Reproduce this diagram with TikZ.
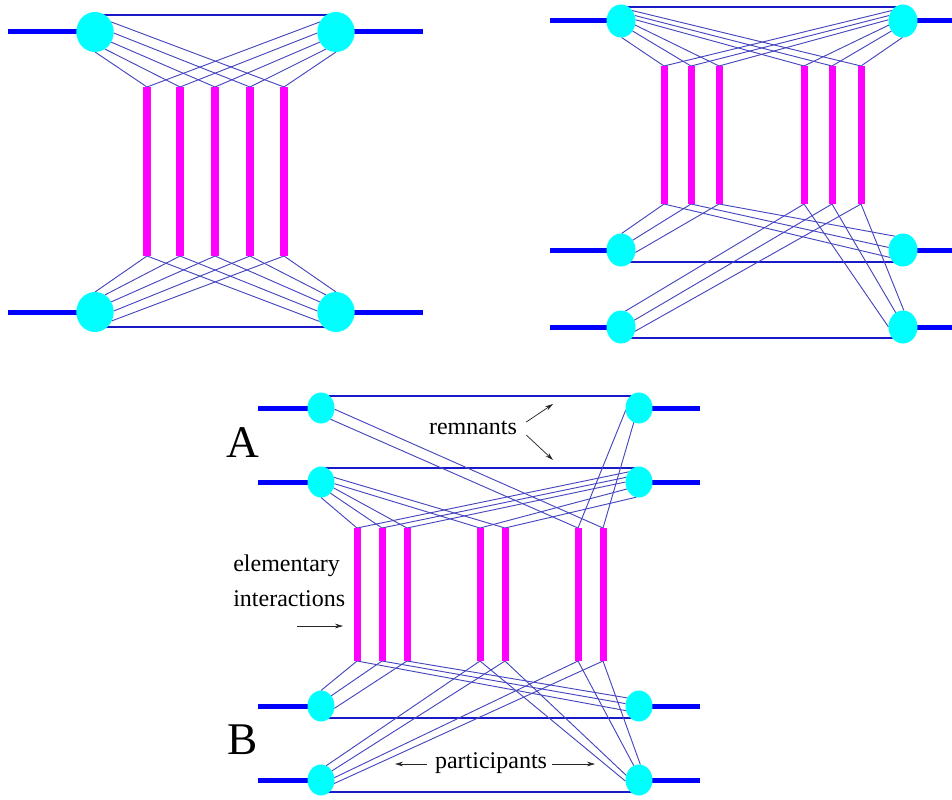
\documentclass[tikz,border=0pt]{standalone}
\usepackage{fontspec}
\setmainfont{Liberation Serif}
\usetikzlibrary{shapes.geometric,calc,arrows.meta}
\pgfdeclarelayer{background}
\pgfsetlayers{background,main}
\definecolor{trunkblue}{RGB}{0,0,255}
\definecolor{partcyan}{RGB}{0,255,255}
\definecolor{barmag}{RGB}{255,0,255}
\definecolor{connblue}{RGB}{70,70,190}
\definecolor{remblue}{RGB}{25,25,200}
\tikzset{
  trunk/.style={line width=3.75pt, trunkblue},
  partA/.style={ellipse, fill=partcyan, draw=none, inner sep=0pt, outer sep=0pt, minimum width=28pt, minimum height=30pt},
  partB/.style={ellipse, fill=partcyan, draw=none, inner sep=0pt, outer sep=0pt, minimum width=21.75pt, minimum height=24.75pt},
  partC/.style={ellipse, fill=partcyan, draw=none, inner sep=0pt, outer sep=0pt, minimum width=20.25pt, minimum height=23.25pt},
  ladder/.style={line width=5.25pt, barmag},
  ladderwide/.style={line width=6pt, barmag},
  conn/.style={line width=0.7pt, connblue},
  remn/.style={line width=0.8pt, remblue},
  lbl/.style={font=\fontsize{18pt}{26pt}\selectfont, inner sep=0pt},
  biglbl/.style={font=\fontsize{34pt}{40pt}\selectfont, inner sep=0pt},
  pointer/.style={line width=0.55pt, black!85, -{Stealth[length=6pt,width=3.5pt]}},
}
\begin{document}
\begin{tikzpicture}[x=0.75pt,y=-0.75pt]
\useasboundingbox (0,0) rectangle (952,799);

% ---------------- panel 1 ----------------
\node[partA] (a1) at (95,32) {};
\node[partA] (a2) at (336,32) {};
\node[partA] (a3) at (95,312) {};
\node[partA] (a4) at (336,312) {};
\coordinate (a1w) at (8,32);  \coordinate (a2e) at (423,32);
\coordinate (a3w) at (8,312); \coordinate (a4e) at (423,312);
\foreach \n/\x in {1/147,2/180,3/215,4/250,5/284}{
  \coordinate (pat\n) at (\x,87); \coordinate (pab\n) at (\x,256);}
\foreach \n in {1,...,5} \draw[ladderwide] (pat\n) -- (pab\n);

% ---------------- panel 2 ----------------
\node[partB] (b1) at (621,21) {};
\node[partB] (b2) at (903,21) {};
\node[partB] (b3) at (621,250) {};
\node[partB] (b4) at (903,250) {};
\node[partB] (b5) at (621,327) {};
\node[partB] (b6) at (903,327) {};
\coordinate (b1w) at (550,21);  \coordinate (b2e) at (952,21);
\coordinate (b3w) at (550,250); \coordinate (b4e) at (952,250);
\coordinate (b5w) at (550,327); \coordinate (b6e) at (952,327);
\foreach \n/\x in {1/664,2/691,3/719,4/804,5/832,6/861}{
  \coordinate (pbt\n) at (\x,66); \coordinate (pbb\n) at (\x,204);}
\foreach \n in {1,...,6} \draw[ladder] (pbt\n) -- (pbb\n);

% ---------------- panel 3 ----------------
\node[partC] (c1) at (321,408) {};
\node[partC] (c2) at (639,408) {};
\node[partC] (c3) at (321,482) {};
\node[partC] (c4) at (639,482) {};
\node[partC] (c5) at (321,706) {};
\node[partC] (c6) at (639,706) {};
\node[partC] (c7) at (321,780) {};
\node[partC] (c8) at (639,780) {};
\foreach \k/\y in {1/408,3/482,5/706,7/780}{\coordinate (c\k w) at (258,\y);}
\foreach \k/\y in {2/408,4/482,6/706,8/780}{\coordinate (c\k e) at (700,\y);}
\foreach \n/\x in {1/357,2/382,3/407,4/480,5/505,6/578,7/603}{
  \coordinate (pct\n) at (\x,528); \coordinate (pcb\n) at (\x,661);}
\foreach \n in {1,...,7} \draw[ladder] (pct\n) -- (pcb\n);

% labels
\node[biglbl] (labA) at (243,443) {A};
\node[biglbl] (labB) at (243,740) {B};
\node[lbl] (rem) at (473,428) {remnants};
\node[lbl] (part) at (491,763) {participants};
\node[lbl, align=left, anchor=west] (elem) at (233,581) {elementary\\interactions};
\coordinate (remtipA) at (553,404);
\coordinate (remtipB) at (553,460);
\coordinate (partL) at (395,764);
\coordinate (partR) at (595,764);
\coordinate (elemtail) at (297,626);
\coordinate (elemtip) at (343,626);
\draw[pointer] ($(rem.east)+(9,-6)$) -- (remtipA);
\draw[pointer] ($(rem.east)+(9,7)$) -- (remtipB);
\draw[pointer] ($(part.west)+(-8,1)$) -- (partL);
\draw[pointer] ($(part.east)+(5,1)$) -- (partR);
\draw[pointer] (elemtail) -- (elemtip);

\begin{pgfonlayer}{background}
  % trunks
  \draw[trunk] (a1w) -- (a1.center); \draw[trunk] (a2.center) -- (a2e);
  \draw[trunk] (a3w) -- (a3.center); \draw[trunk] (a4.center) -- (a4e);
  \foreach \k in {1,3,5}{\draw[trunk] (b\k w) -- (b\k.center);}
  \foreach \k in {2,4,6}{\draw[trunk] (b\k.center) -- (b\k e);}
  \foreach \k in {1,3,5,7}{\draw[trunk] (c\k w) -- (c\k.center);}
  \foreach \k in {2,4,6,8}{\draw[trunk] (c\k.center) -- (c\k e);}
  % remnant lines
  \draw[remn] ($(a1)+(0,-17)$) -- ($(a2)+(0,-17)$);
  \draw[remn] ($(a3)+(0,15)$) -- ($(a4)+(0,15)$);
  \draw[remn] ($(b1)+(0,-14)$) -- ($(b2)+(0,-14)$);
  \draw[remn] ($(b3)+(0,12)$) -- ($(b4)+(0,12)$);
  \draw[remn] ($(b5)+(0,11)$) -- ($(b6)+(0,11)$);
  \draw[remn] ($(c1)+(0,-12)$) -- ($(c2)+(0,-12)$);
  \draw[remn] ($(c3)+(0,-14)$) -- ($(c4)+(0,-14)$);
  \draw[remn] ($(c5)+(0,12)$) -- ($(c6)+(0,12)$);
  \draw[remn] ($(c7)+(0,12)$) -- ($(c8)+(0,12)$);
  % panel 1 connectors
  \foreach \n/\a in {1/-90,2/-60,3/-32,4/-3,5/32} \draw[conn] (a1.\a) -- (pat\n);
  \foreach \n/\a in {5/-90,4/-120,3/-148,2/183,1/148} \draw[conn] (a2.\a) -- (pat\n);
  \foreach \n/\a in {1/90,2/60,3/32,4/3,5/-28} \draw[conn] (a3.\a) -- (pab\n);
  \foreach \n/\a in {5/90,4/120,3/148,2/177,1/210} \draw[conn] (a4.\a) -- (pab\n);
  % panel 2 connectors
  \foreach \n/\a in {1/-88,2/-41,3/-16,4/5,5/22,6/43} \draw[conn] (b1.\a) -- (pbt\n);
  \foreach \n/\a in {6/268,5/221,4/196,3/175,2/158,1/137} \draw[conn] (b2.\a) -- (pbt\n);
  \foreach \n/\a in {1/88,2/40,3/-10} \draw[conn] (b3.\a) -- (pbb\n);
  \foreach \n/\a in {3/120,2/170,1/210} \draw[conn] (b4.\a) -- (pbb\n);
  \foreach \n/\a in {4/75,5/27,6/-17} \draw[conn] (b5.\a) -- (pbb\n);
  \foreach \n/\a in {4/180,5/117,6/87} \draw[conn] (b6.\a) -- (pbb\n);
  % panel 3 connectors
  \foreach \n/\a in {7/-5,6/-50} \draw[conn] (c1.\a) -- (pct\n);
  \foreach \n/\a in {6/190,7/250} \draw[conn] (c2.\a) -- (pct\n);
  \foreach \n/\a in {1/-90,2/-50,3/-25,4/-7,5/20} \draw[conn] (c3.\a) -- (pct\n);
  \foreach \n/\a in {1/135,2/160,3/180,4/210,5/260} \draw[conn] (c4.\a) -- (pct\n);
  \foreach \n/\a in {1/90,2/45,3/-10} \draw[conn] (c5.\a) -- (pcb\n);
  \foreach \n/\a in {3/145,2/170,1/200} \draw[conn] (c6.\a) -- (pcb\n);
  \foreach \n/\a in {4/70,5/40,6/10,7/-15} \draw[conn] (c7.\a) -- (pcb\n);
  \foreach \n/\a in {4/185,5/160,6/110,7/85} \draw[conn] (c8.\a) -- (pcb\n);
\end{pgfonlayer}
\end{tikzpicture}
\end{document}
